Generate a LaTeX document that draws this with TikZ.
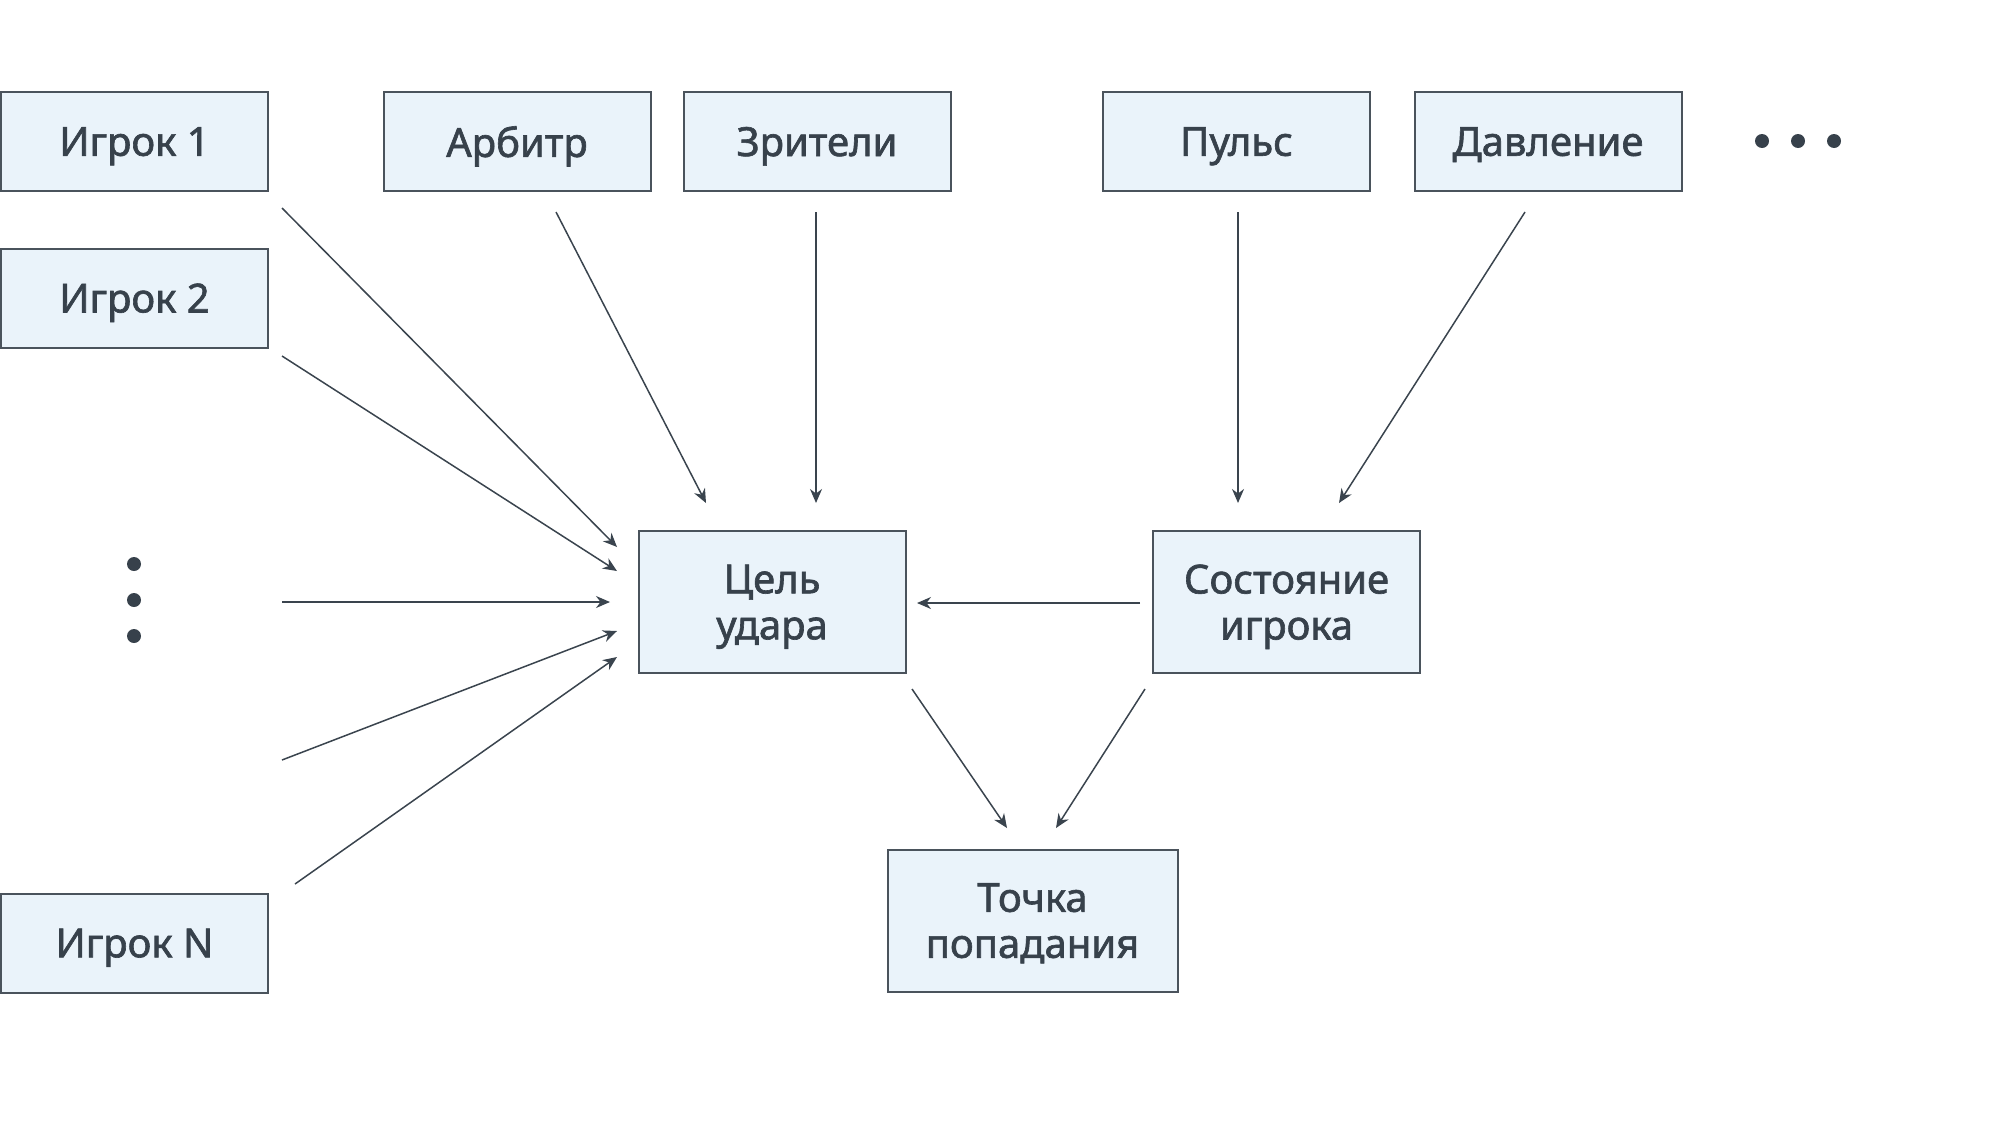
\documentclass[tikz,border=0pt]{standalone}
\usepackage{fontspec}
\setmainfont{Noto Sans}[FakeBold=1.6]
\usetikzlibrary{arrows.meta}
\definecolor{boxfill}{HTML}{EAF3FA}
\definecolor{boxline}{HTML}{4A535C}
\definecolor{txt}{HTML}{37414B}
\definecolor{arr}{HTML}{3A444E}
\tikzset{
  box/.style={draw=boxline, line width=1pt, fill=boxfill, text=txt, minimum width=133.5pt, minimum height=49.5pt, inner sep=0pt, font=\fontsize{20}{23}\selectfont, align=center, text depth=0pt},
  bigbox/.style={box, minimum height=71pt},
  conn/.style={draw=arr, line width=0.75pt, -{Stealth[length=7pt,width=6pt]}},
  dotmark/.style={fill=txt, circle, inner sep=0pt, minimum size=7pt}
}
\begin{document}
\begin{tikzpicture}[x=0.5pt,y=-0.5pt]
\useasboundingbox (0,0) rectangle (2000,1130);
% boxes
\node[box] (p1) at (134.5,141.5) {Игрок 1};
\node[box] (p2) at (134.5,298) {Игрок 2};
\node[box] (pn) at (134.5,943) {Игрок N};
\node[box] (arb) at (517,141.5) {Арбитр};
\node[box] (zr) at (817,141.5) {Зрители};
\node[box] (pu) at (1236.5,141.5) {Пульс};
\node[box] (dav) at (1548,141.5) {Давление};
\node[bigbox] (cel) at (772,602) {Цель\\удара};
\node[bigbox] (sost) at (1286.5,602) {Состояние\\игрока};
\node[bigbox, minimum width=145pt] (tochka) at (1032.5,920.5) {Точка\\попадания};
% dots
\node[dotmark] (h1) at (1762,141) {};
\node[dotmark] (h2) at (1798,141) {};
\node[dotmark] (h3) at (1834,141) {};
\node[dotmark] (v1) at (134,564) {};
\node[dotmark] (v2) at (134,600) {};
\node[dotmark] (v3) at (134,636) {};
% connector endpoints
\coordinate (s1) at (282,208);   \coordinate (e1) at (617,547);
\coordinate (s2) at (282,356);   \coordinate (e2) at (617,571);
\coordinate (s3) at (282,602);   \coordinate (e3) at (610,602);
\coordinate (s4) at (282,760);   \coordinate (e4) at (617,631);
\coordinate (s5) at (295,884);   \coordinate (e5) at (617,657);
\coordinate (sa) at (556,212);   \coordinate (ea) at (706,503);
\coordinate (sz) at (816,212);   \coordinate (ez) at (816,503);
\coordinate (sp) at (1238,212);  \coordinate (ep) at (1238,503);
\coordinate (sd) at (1525,212);  \coordinate (ed) at (1339,503);
\coordinate (ss) at (1140,603);  \coordinate (es) at (917,603);
\coordinate (sc) at (912,689);   \coordinate (ec) at (1007,828);
\coordinate (sk) at (1145,689);  \coordinate (ek) at (1056,828);
% connectors
\draw[conn] (s1) -- (e1);
\draw[conn] (s2) -- (e2);
\draw[conn] (s3) -- (e3);
\draw[conn] (s4) -- (e4);
\draw[conn] (s5) -- (e5);
\draw[conn] (sa) -- (ea);
\draw[conn] (sz) -- (ez);
\draw[conn] (sp) -- (ep);
\draw[conn] (sd) -- (ed);
\draw[conn] (ss) -- (es);
\draw[conn] (sc) -- (ec);
\draw[conn] (sk) -- (ek);
\end{tikzpicture}
\end{document}
